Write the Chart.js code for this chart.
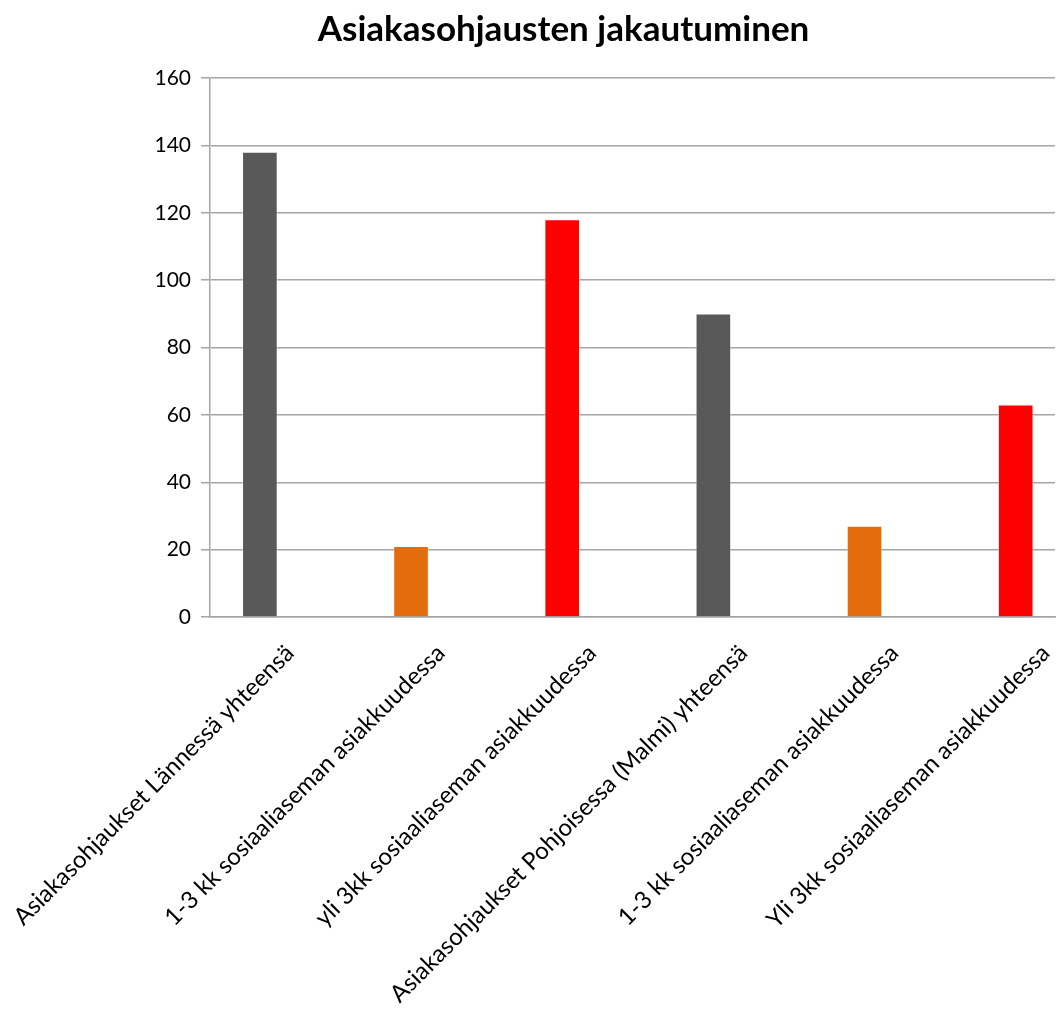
<!DOCTYPE html>
<html>
<head>
<meta charset="utf-8">
<script src="https://cdn.jsdelivr.net/npm/chart.js@4.4.1/dist/chart.umd.min.js"></script>
<style>
  html, body { margin: 0; padding: 0; background: #fff; overflow: hidden; }
  #wrap { width: 1057px; height: 1014px; }
</style>
</head>
<body>
<div id="wrap"><canvas id="ohjausChart"></canvas></div>
<script>
const categories = [
    'Asiakasohjaukset Lännessä yhteensä',
    '1-3 kk sosiaaliaseman asiakkuudessa',
    'yli 3kk sosiaaliaseman asiakkuudessa',
    'Asiakasohjaukset Pohjoisessa (Malmi) yhteensä',
    '1-3 kk sosiaaliaseman asiakkuudessa',
    'Yli 3kk sosiaaliaseman asiakkuudessa'
];
const values = [138, 21, 118, 90, 27, 63];
const barColors = ['#595959', '#E46C0A', '#FF0000', '#595959', '#E46C0A', '#FF0000'];
const yTicks = [0, 20, 40, 60, 80, 100, 120, 140, 160];

const fontFamily = 'Lato, "Open Sans", sans-serif';
const gridGray = '#a6a6a6';

// title in the original sits a bit right of the canvas centre
const shiftTitle = {
    id: 'shiftTitle',
    afterLayout(chart) {
        if (chart.titleBlock) {
            chart.titleBlock.left += 72;
        }
    }
};

const ctx = document.getElementById('ohjausChart').getContext('2d');

new Chart(ctx, {
    type: 'bar',
    data: {
        datasets: [{
            label: 'Asiakasohjaukset',
            data: values.map((v, i) => ({ x: i, y: v })),
            backgroundColor: barColors,
            borderColor: 'rgba(255,255,255,0.35)',
            borderWidth: 1,
            barThickness: 35
        }]
    },
    options: {
        responsive: true,
        maintainAspectRatio: false,
        animation: false,
        layout: { padding: { top: 9, left: 0, right: 2, bottom: 0 } },
        plugins: {
            legend: { display: false },
            tooltip: { enabled: false },
            title: {
                display: true,
                text: 'Asiakasohjausten jakautuminen',
                color: '#000',
                font: { family: fontFamily, size: 35, weight: 'bold' },
                padding: { top: 0, bottom: 27 }
            }
        },
        scales: {
            x: {
                type: 'linear',
                offset: false,
                min: -0.33,
                max: 5.26,
                grid: { display: false },
                border: { display: true, color: gridGray, width: 1.5 },
                afterBuildTicks: (axis) => {
                    axis.ticks = categories.map((_, i) => ({ value: i }));
                },
                afterFit: (axis) => {
                    axis.paddingLeft = 0;
                    axis.paddingRight = 0;
                    axis.height = 397;
                },
                ticks: {
                    autoSkip: false,
                    minRotation: 45,
                    maxRotation: 45,
                    padding: 14,
                    labelOffset: 30,
                    color: '#000',
                    font: { family: fontFamily, size: 24 },
                    callback: (v) => categories[v]
                }
            },
            y: {
                min: 0,
                max: 160,
                afterBuildTicks: (axis) => {
                    axis.ticks = yTicks.map(v => ({ value: v }));
                },
                afterFit: (axis) => { axis.width = 210; },
                grid: { color: gridGray, lineWidth: 1.5, tickLength: 9 },
                border: { display: true, color: gridGray, width: 1.5 },
                ticks: {
                    padding: 10,
                    color: '#000',
                    font: { family: fontFamily, size: 21 }
                }
            }
        }
    },
    plugins: [shiftTitle]
});
</script>
</body>
</html>
